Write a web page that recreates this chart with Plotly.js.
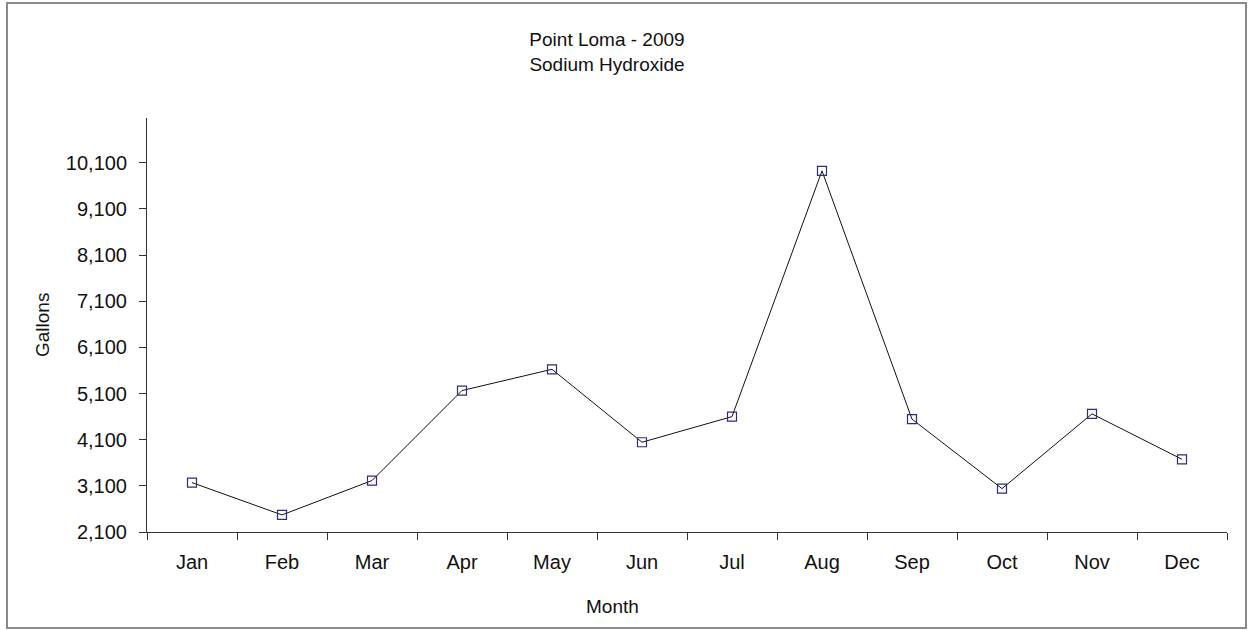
<!DOCTYPE html>
<html>
<head>
<meta charset="utf-8">
<script src="https://cdn.plot.ly/plotly-3.0.1.min.js"></script>
<style>
  body { margin: 0; background: #fff; }
  #chart { width: 1250px; height: 630px; }
</style>
</head>
<body>
<div id="chart"></div>
<script>
// monthly sodium hydroxide use, Point Loma 2009 (gallons)
let months = ["Jan", "Feb", "Mar", "Apr", "May", "Jun", "Jul", "Aug", "Sep", "Oct", "Nov", "Dec"];
let gallons = [3170, 2470, 3215, 5165, 5625, 4045, 4600, 9925, 4545, 3040, 4660, 3675];

let yMin = 2100, yMax = 11070, yStep = 1000;
let font = "Liberation Sans, Arial, sans-serif";

let trace = {
    type: "scatter",
    mode: "lines+markers",
    x: months,
    y: gallons,
    line: { color: "#111", width: 1 },
    marker: {
        symbol: "square-open",
        size: 9,
        color: "#2e2e78",
        line: { width: 1.2 }
    },
    showlegend: false,
    hoverinfo: "x+y"
};

let layout = {
    width: 1250,
    height: 630,
    margin: { l: 147, r: 23, t: 118, b: 98 },
    paper_bgcolor: "#fff",
    plot_bgcolor: "#fff",
    font: { family: font, size: 20, color: "#111" },
    title: {
        text: "Point Loma - 2009<br>Sodium Hydroxide",
        font: { family: font, size: 19, color: "#111" },
        x: 607 / 1250,
        xanchor: "center",
        xref: "container",
        y: 1 - 46 / 630,
        yanchor: "top"
    },
    xaxis: {
        type: "category",
        range: [-0.5, 11.5],
        tickson: "boundaries",
        ticks: "outside",
        ticklen: 7,
        tickcolor: "#333",
        showline: true,
        linecolor: "#333",
        linewidth: 1,
        showgrid: false,
        zeroline: false,
        tickfont: { size: 20 },
        ticklabelstandoff: 12
    },
    yaxis: {
        range: [yMin, yMax],
        tick0: yMin,
        dtick: yStep,
        tickformat: ",d",
        ticks: "outside",
        ticklen: 7,
        tickcolor: "#333",
        showline: true,
        linecolor: "#333",
        linewidth: 1,
        showgrid: false,
        zeroline: false,
        tickfont: { size: 20 },
        ticklabelstandoff: 8
    },
    // inner halves of the crossing tick marks
    xaxis2: {
        overlaying: "x",
        anchor: "y",
        range: [-0.5, 11.5],
        tick0: -0.5,
        dtick: 1,
        ticks: "inside",
        ticklen: 6,
        tickcolor: "#333",
        showticklabels: false,
        showline: false,
        showgrid: false,
        zeroline: false
    },
    yaxis2: {
        overlaying: "y",
        anchor: "x",
        range: [yMin, yMax],
        tick0: yMin,
        dtick: yStep,
        ticks: "inside",
        ticklen: 6,
        tickcolor: "#333",
        showticklabels: false,
        showline: false,
        showgrid: false,
        zeroline: false
    },
    annotations: [
        {
            text: "Month",
            xref: "paper", yref: "paper",
            x: (612 - 147) / 1080, y: (532 - 606) / 414,
            xanchor: "center", yanchor: "middle",
            showarrow: false,
            font: { size: 19 }
        },
        {
            text: "Gallons",
            xref: "paper", yref: "paper",
            x: (42 - 147) / 1080, y: 0.5,
            xanchor: "center", yanchor: "middle",
            textangle: -90,
            showarrow: false,
            font: { size: 19 }
        }
    ],
    shapes: [{
        // outer frame round the whole picture
        type: "rect",
        xref: "paper", yref: "paper",
        x0: (7 - 147) / 1080, x1: (1246 - 147) / 1080,
        y0: (532 - 628) / 414, y1: (532 - 3) / 414,
        line: { color: "#8a8a8a", width: 2 },
        layer: "below"
    }]
};

Plotly.newPlot("chart", [trace], layout, { displayModeBar: false, staticPlot: true });
</script>
</body>
</html>
